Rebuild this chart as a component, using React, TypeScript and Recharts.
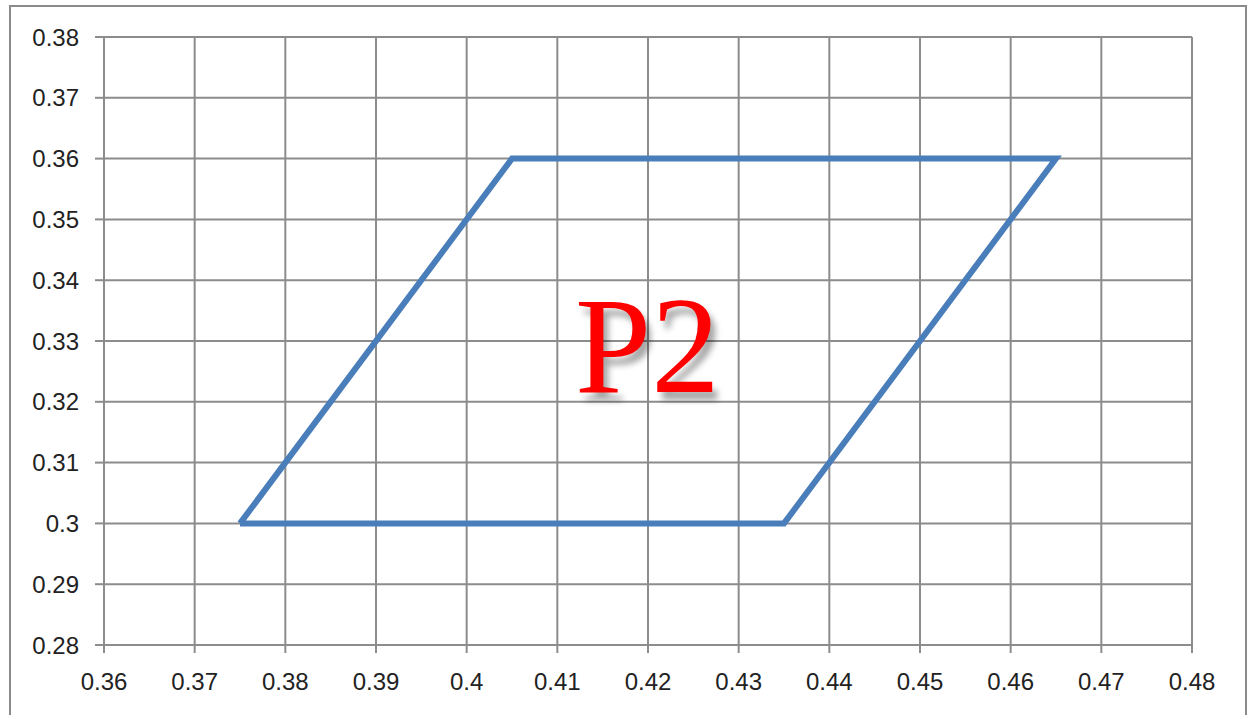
import { LineChart, Line, XAxis, YAxis, CartesianGrid } from "recharts";

// corners of the P2 parallelogram, closed back to the start
const cornerX = [0.375, 0.405, 0.465, 0.435, 0.375];
const cornerY = [0.3, 0.36, 0.36, 0.3, 0.3];

const xTicks = [0.36, 0.37, 0.38, 0.39, 0.4, 0.41, 0.42, 0.43, 0.44, 0.45, 0.46, 0.47, 0.48];
const yTicks = [0.28, 0.29, 0.3, 0.31, 0.32, 0.33, 0.34, 0.35, 0.36, 0.37, 0.38];

const label = "P2";

const data = cornerX.map((x, i) => ({ x, y: cornerY[i] }));

const gridColor = "#8c8c8c";
const tickStyle = { fontSize: 24, fill: "#222", fontFamily: "'Liberation Sans', Arial, sans-serif" };

export default function App() {
  return (
    <div style={{ position: "absolute", left: 0, top: 0, width: 1250, height: 715, overflow: "hidden", background: "white" }}>
      <div
        style={{
          position: "absolute",
          left: 9,
          top: 5,
          width: 1238,
          height: 730,
          border: "2px solid #8a8a8a",
          boxSizing: "border-box",
        }}
      />
      <LineChart
        width={1250}
        height={715}
        data={data}
        margin={{ top: 37, right: 58, bottom: 0, left: 0 }}
        style={{ position: "absolute", left: 0, top: 0 }}
      >
        <CartesianGrid stroke={gridColor} strokeWidth={2} />
        <XAxis
          type="number"
          dataKey="x"
          domain={[0.36, 0.48]}
          ticks={xTicks}
          interval={0}
          height={70}
          tick={tickStyle}
          tickSize={8}
          tickMargin={20}
          axisLine={{ stroke: gridColor, strokeWidth: 2 }}
          tickLine={{ stroke: gridColor, strokeWidth: 2 }}
        />
        <YAxis
          type="number"
          dataKey="y"
          domain={[0.28, 0.38]}
          ticks={yTicks}
          interval={0}
          width={104}
          tick={tickStyle}
          tickSize={9}
          tickMargin={16}
          axisLine={{ stroke: gridColor, strokeWidth: 2 }}
          tickLine={{ stroke: gridColor, strokeWidth: 2 }}
        />
        <Line
          type="linear"
          dataKey="y"
          stroke="#4a7ebb"
          strokeWidth={6}
          dot={false}
          activeDot={false}
          isAnimationActive={false}
        />
      </LineChart>
      <svg width={1250} height={715} style={{ position: "absolute", left: 0, top: 0, pointerEvents: "none" }}>
        <text
          x={575}
          y={392}
          fill="#ff0000"
          fontSize={137}
          fontFamily="'Liberation Serif', 'Times New Roman', serif"
          style={{ filter: "drop-shadow(5px 8px 3px rgba(0,0,0,0.35))" }}
        >
          {label}
        </text>
      </svg>
    </div>
  );
}
